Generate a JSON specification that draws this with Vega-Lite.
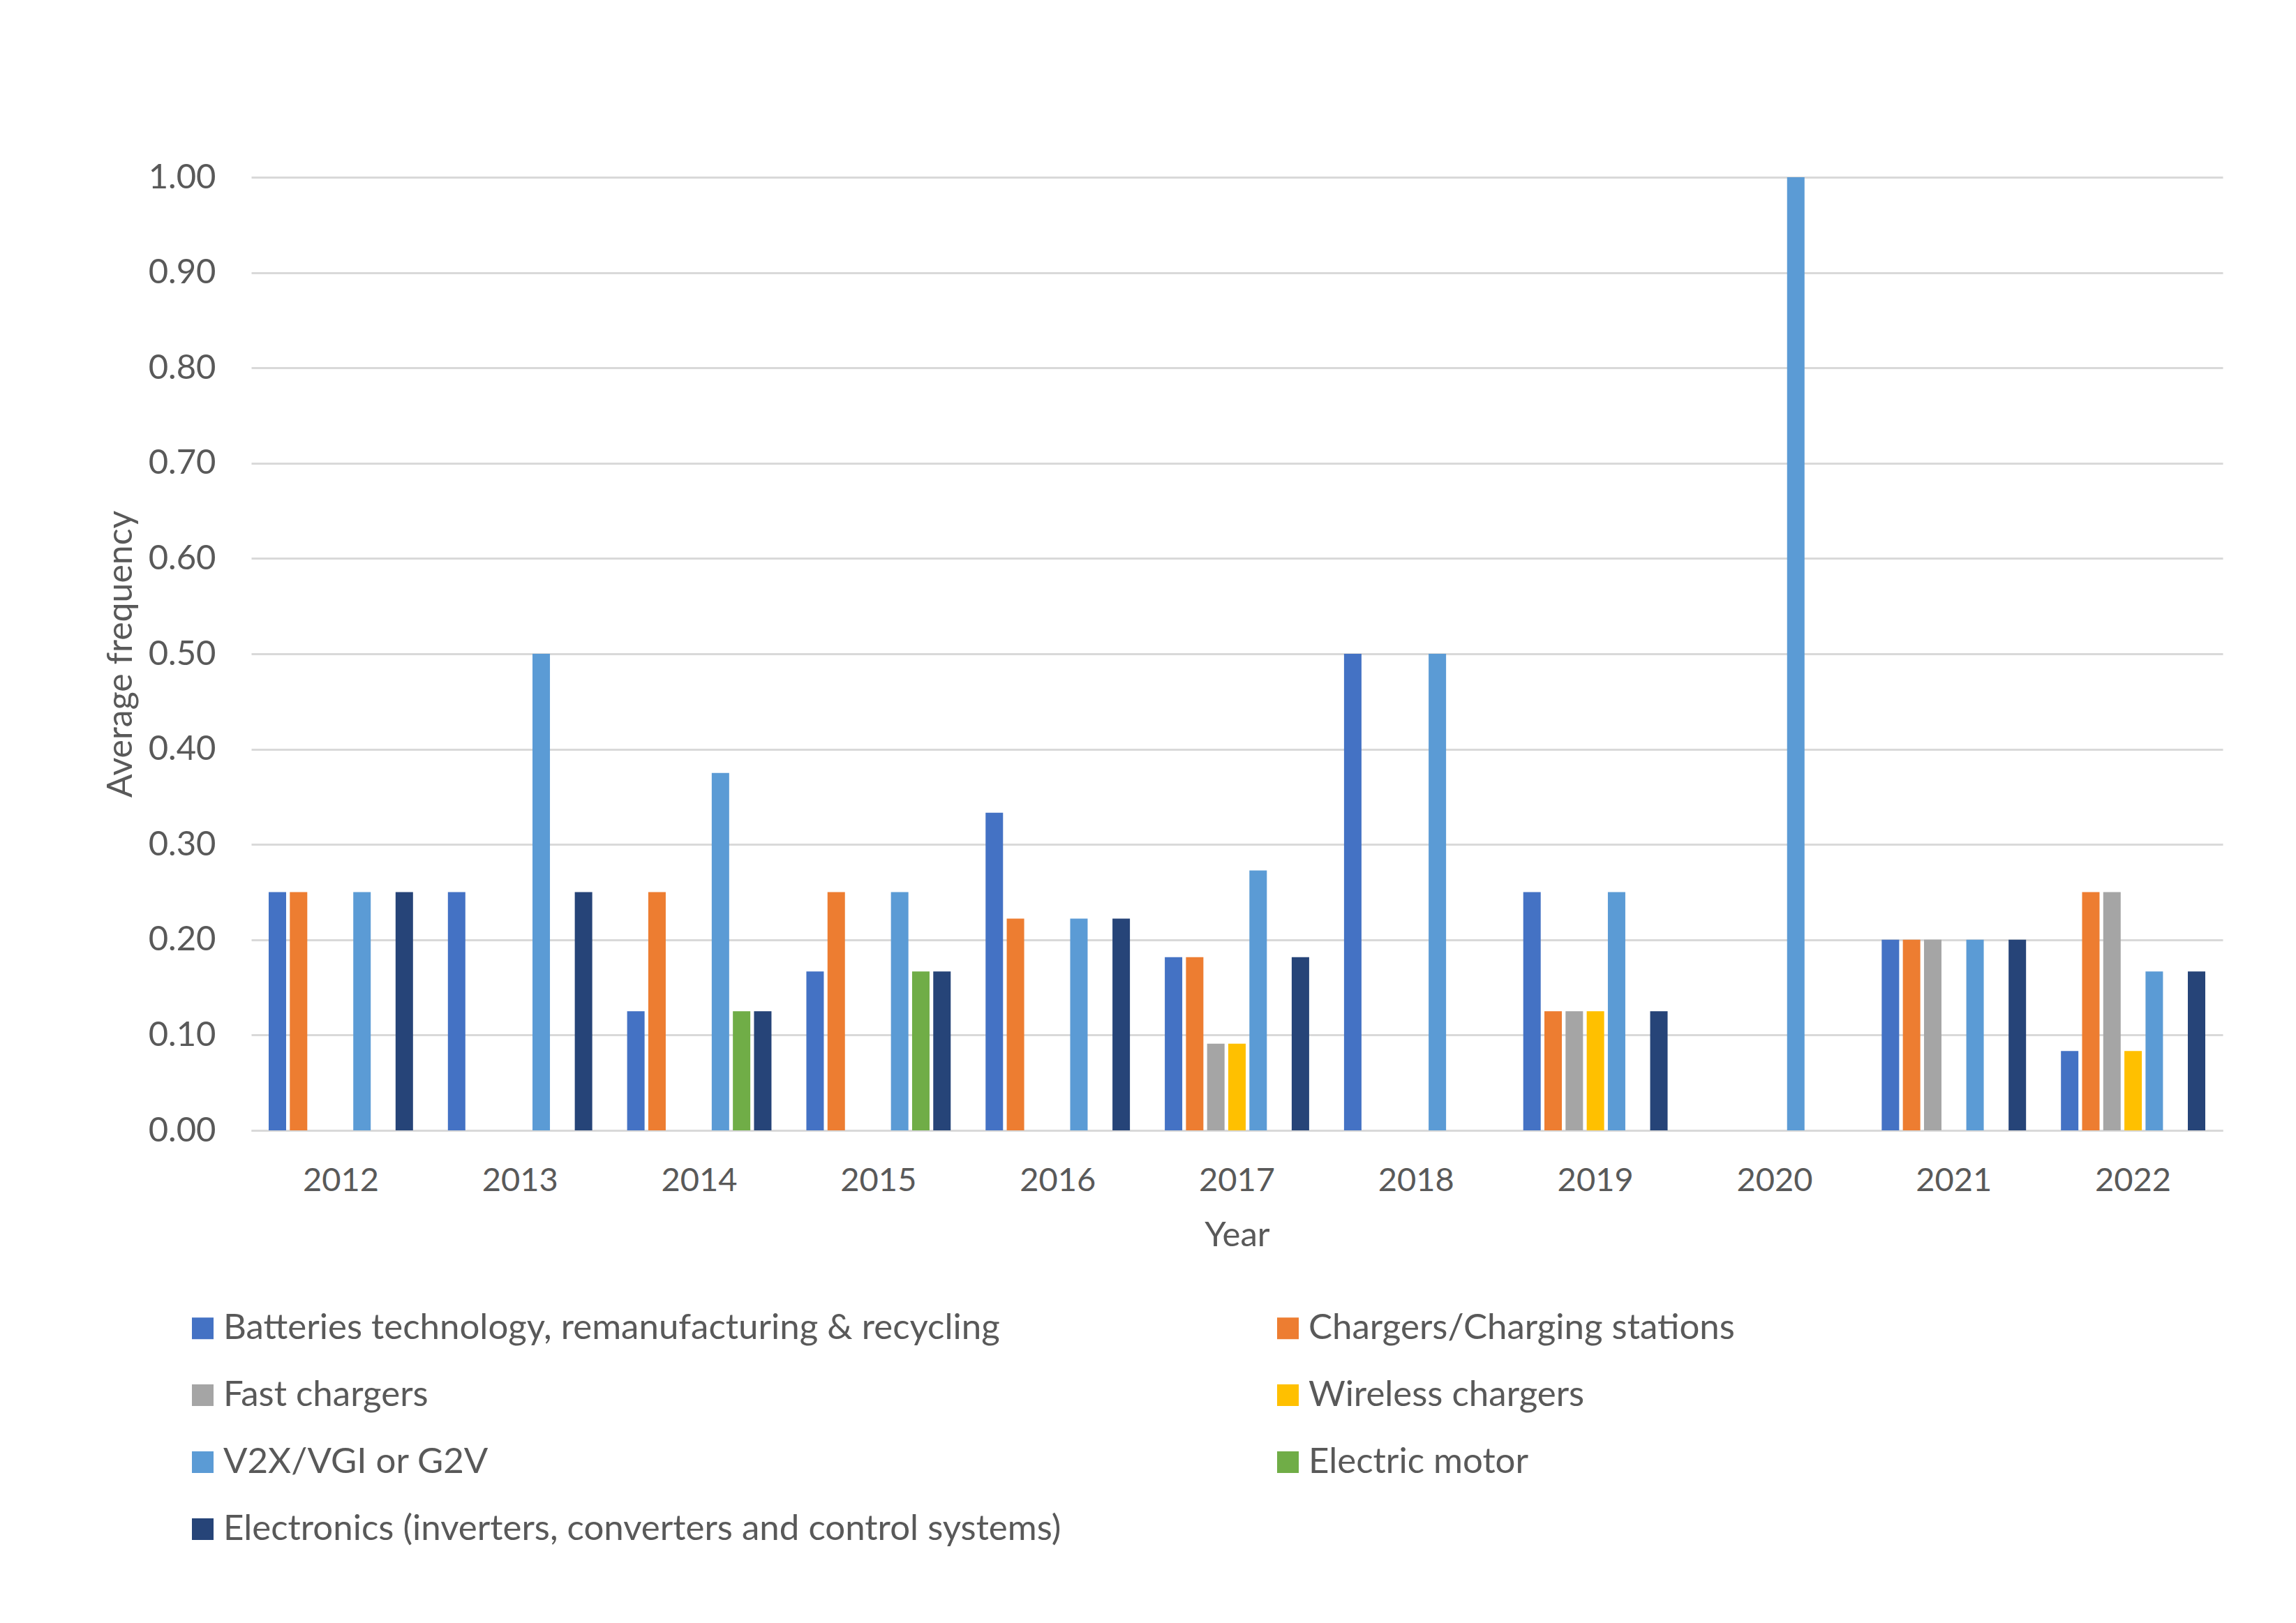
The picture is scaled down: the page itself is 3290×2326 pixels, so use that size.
{
  "$schema": "https://vega.github.io/schema/vega-lite/v6.json",
  "width": 2825,
  "height": 1366,
  "autosize": {"type": "none"},
  "padding": {"left": 360, "top": 254, "right": 105, "bottom": 706},
  "background": "white",
  "config": {"view": {"stroke": null}, "font": "Lato"},
  "data": {
    "values": [
      {"year": "2012", "cat": "Batteries technology, remanufacturing & recycling", "value": 0.25},
      {"year": "2012", "cat": "Chargers/Charging stations", "value": 0.25},
      {"year": "2012", "cat": "V2X/VGI or G2V", "value": 0.25},
      {"year": "2012", "cat": "Electronics (inverters, converters and control systems)", "value": 0.25},
      {"year": "2013", "cat": "Batteries technology, remanufacturing & recycling", "value": 0.25},
      {"year": "2013", "cat": "V2X/VGI or G2V", "value": 0.5},
      {"year": "2013", "cat": "Electronics (inverters, converters and control systems)", "value": 0.25},
      {"year": "2014", "cat": "Batteries technology, remanufacturing & recycling", "value": 0.125},
      {"year": "2014", "cat": "Chargers/Charging stations", "value": 0.25},
      {"year": "2014", "cat": "V2X/VGI or G2V", "value": 0.375},
      {"year": "2014", "cat": "Electric motor", "value": 0.125},
      {"year": "2014", "cat": "Electronics (inverters, converters and control systems)", "value": 0.125},
      {"year": "2015", "cat": "Batteries technology, remanufacturing & recycling", "value": 0.1667},
      {"year": "2015", "cat": "Chargers/Charging stations", "value": 0.25},
      {"year": "2015", "cat": "V2X/VGI or G2V", "value": 0.25},
      {"year": "2015", "cat": "Electric motor", "value": 0.1667},
      {"year": "2015", "cat": "Electronics (inverters, converters and control systems)", "value": 0.1667},
      {"year": "2016", "cat": "Batteries technology, remanufacturing & recycling", "value": 0.3333},
      {"year": "2016", "cat": "Chargers/Charging stations", "value": 0.2222},
      {"year": "2016", "cat": "V2X/VGI or G2V", "value": 0.2222},
      {"year": "2016", "cat": "Electronics (inverters, converters and control systems)", "value": 0.2222},
      {"year": "2017", "cat": "Batteries technology, remanufacturing & recycling", "value": 0.1818},
      {"year": "2017", "cat": "Chargers/Charging stations", "value": 0.1818},
      {"year": "2017", "cat": "Fast chargers", "value": 0.0909},
      {"year": "2017", "cat": "Wireless chargers", "value": 0.0909},
      {"year": "2017", "cat": "V2X/VGI or G2V", "value": 0.2727},
      {"year": "2017", "cat": "Electronics (inverters, converters and control systems)", "value": 0.1818},
      {"year": "2018", "cat": "Batteries technology, remanufacturing & recycling", "value": 0.5},
      {"year": "2018", "cat": "V2X/VGI or G2V", "value": 0.5},
      {"year": "2019", "cat": "Batteries technology, remanufacturing & recycling", "value": 0.25},
      {"year": "2019", "cat": "Chargers/Charging stations", "value": 0.125},
      {"year": "2019", "cat": "Fast chargers", "value": 0.125},
      {"year": "2019", "cat": "Wireless chargers", "value": 0.125},
      {"year": "2019", "cat": "V2X/VGI or G2V", "value": 0.25},
      {"year": "2019", "cat": "Electronics (inverters, converters and control systems)", "value": 0.125},
      {"year": "2020", "cat": "V2X/VGI or G2V", "value": 1.0},
      {"year": "2021", "cat": "Batteries technology, remanufacturing & recycling", "value": 0.2},
      {"year": "2021", "cat": "Chargers/Charging stations", "value": 0.2},
      {"year": "2021", "cat": "Fast chargers", "value": 0.2},
      {"year": "2021", "cat": "V2X/VGI or G2V", "value": 0.2},
      {"year": "2021", "cat": "Electronics (inverters, converters and control systems)", "value": 0.2},
      {"year": "2022", "cat": "Batteries technology, remanufacturing & recycling", "value": 0.0833},
      {"year": "2022", "cat": "Chargers/Charging stations", "value": 0.25},
      {"year": "2022", "cat": "Fast chargers", "value": 0.25},
      {"year": "2022", "cat": "Wireless chargers", "value": 0.0833},
      {"year": "2022", "cat": "V2X/VGI or G2V", "value": 0.1667},
      {"year": "2022", "cat": "Electronics (inverters, converters and control systems)", "value": 0.1667}
    ]
  },
  "mark": {"type": "bar"},
  "encoding": {
    "x": {
      "field": "year",
      "type": "nominal",
      "title": "Year",
      "scale": {"paddingInner": 0.174, "paddingOuter": 0.087},
      "axis": {
        "labelAngle": 0,
        "ticks": false,
        "domainColor": "#D9D9D9",
        "domainWidth": 3,
        "labelFontSize": 47,
        "labelColor": "#595959",
        "labelPadding": 86,
        "labelBaseline": "alphabetic",
        "titleFontSize": 49,
        "titleColor": "#595959",
        "titleFontWeight": "normal",
        "titleBaseline": "alphabetic",
        "titleY": 165
      }
    },
    "xOffset": {
      "field": "cat",
      "type": "nominal",
      "scale": {
        "domain": ["Batteries technology, remanufacturing & recycling", "Chargers/Charging stations", "Fast chargers", "Wireless chargers", "V2X/VGI or G2V", "Electric motor", "Electronics (inverters, converters and control systems)"],
        "paddingInner": 0.175,
        "paddingOuter": 0.0875
      }
    },
    "y": {
      "field": "value",
      "type": "quantitative",
      "title": "Average frequency",
      "scale": {"domain": [0, 1], "nice": false},
      "axis": {
        "values": [0, 0.1, 0.2, 0.3, 0.4, 0.5, 0.6, 0.7, 0.8, 0.9, 1.0],
        "format": ".2f",
        "ticks": false,
        "domain": false,
        "grid": true,
        "gridColor": "#D9D9D9",
        "gridWidth": 3,
        "labelFontSize": 49,
        "labelColor": "#595959",
        "labelPadding": 51,
        "titleFontSize": 50,
        "titleColor": "#595959",
        "titleFontWeight": "normal",
        "titleAngle": -90,
        "titleX": -187,
        "titleY": 683,
        "titleBaseline": "middle",
        "titleAlign": "center"
      }
    },
    "color": {
      "field": "cat",
      "type": "nominal",
      "scale": {
        "domain": ["Batteries technology, remanufacturing & recycling", "Chargers/Charging stations", "Fast chargers", "Wireless chargers", "V2X/VGI or G2V", "Electric motor", "Electronics (inverters, converters and control systems)"],
        "range": ["#4472C4", "#ED7D31", "#A5A5A5", "#FFC000", "#5B9BD5", "#70AD47", "#264478"]
      },
      "legend": {
        "orient": "none",
        "legendX": -95,
        "legendY": 1624,
        "columns": 2,
        "direction": "horizontal",
        "title": null,
        "symbolType": "square",
        "symbolSize": 961,
        "symbolStrokeWidth": 0,
        "labelFontSize": 51,
        "labelColor": "#595959",
        "labelOffset": 4,
        "labelLimit": 3000,
        "rowPadding": 44,
        "columnPadding": 299,
        "padding": 0
      }
    }
  }
}
